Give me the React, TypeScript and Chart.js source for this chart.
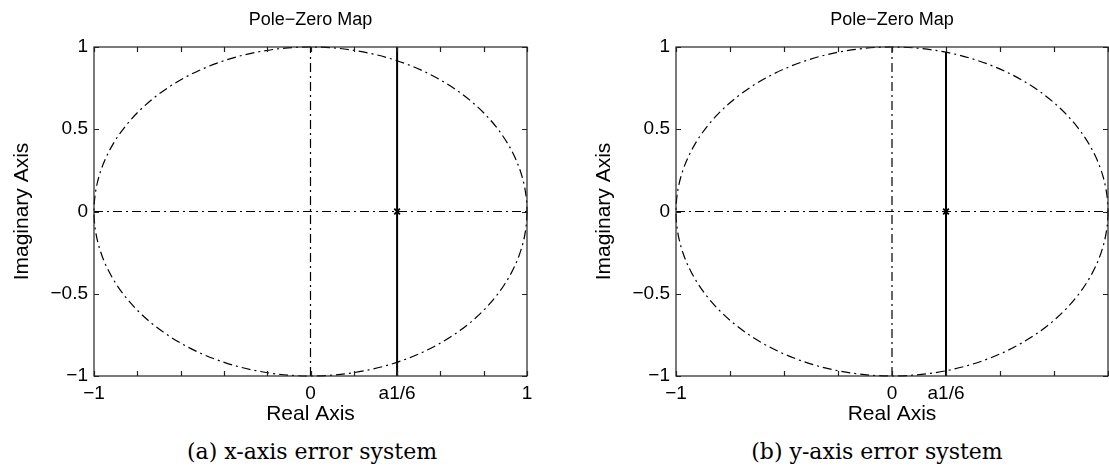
import React, { useEffect, useRef } from 'react';
import { Chart, registerables } from 'chart.js';

Chart.register(...registerables);

// ---------- data ----------
const panelTitle = 'Pole−Zero Map';
const xAxisTitle = 'Real Axis';
const yAxisTitle = 'Imaginary Axis';
const captions = ['(a) x-axis error system', '(b) y-axis error system'];

const yTickValues = [-1, -0.5, 0, 0.5, 1];
const yTickLabels = ['−1', '−0.5', '0', '0.5', '1'];

const xTickValuesA = [-1, -0.8, -0.6, -0.4, -0.2, 0, 0.2, 0.4, 0.6, 0.8, 1];
const xTickLabelsA = ['−1', '', '', '', '', '0', '', 'a1/6', '', '', '1'];
const xTickValuesB = [-1, -0.75, -0.5, -0.25, 0, 0.25, 0.5, 0.75, 1];
const xTickLabelsB = ['−1', '', '', '', '0', 'a1/6', '', '', ''];

const unitCircleRadius = 1;
const realAxisSpan = [-1, 1];
const imagAxisSpan = [-1, 1];
const poleA = 0.4;
const poleB = 0.25;
const locusSpanA = [-1, 1];
const locusSpanB = [-1, 0.97];

// ---------- style ----------
const SANS = '"Liberation Sans", Arial, Helvetica, sans-serif';
const SERIF = '"DejaVu Serif", "Liberation Serif", serif';
const INK = '#000';
const DASH_DOT = [9, 4, 2, 4];

const circlePlugin = {
  id: 'unitCircle',
  beforeDatasetsDraw(chart: any) {
    const { ctx, scales } = chart;
    const x = scales.x;
    const y = scales.y;
    const cx = x.getPixelForValue(0);
    const cy = y.getPixelForValue(0);
    const rx = x.getPixelForValue(unitCircleRadius) - cx;
    const ry = cy - y.getPixelForValue(unitCircleRadius);
    ctx.save();
    ctx.strokeStyle = INK;
    ctx.lineWidth = 1.2;
    ctx.setLineDash(DASH_DOT);
    ctx.beginPath();
    ctx.ellipse(cx, cy, rx, ry, 0, 0, Math.PI * 2);
    ctx.stroke();
    ctx.restore();
  },
};

const framePlugin = {
  id: 'frameTicks',
  afterDatasetsDraw(chart: any) {
    const { ctx, chartArea, scales } = chart;
    const { left, right, top, bottom } = chartArea;
    const L = 5;
    ctx.save();
    ctx.strokeStyle = '#222';
    ctx.lineWidth = 1.2;
    ctx.setLineDash([]);
    ctx.strokeRect(left, top, right - left, bottom - top);
    ctx.beginPath();
    scales.x.ticks.forEach((t: any) => {
      const px = Math.round(scales.x.getPixelForValue(t.value)) + 0.5;
      ctx.moveTo(px, bottom);
      ctx.lineTo(px, bottom - L);
      ctx.moveTo(px, top);
      ctx.lineTo(px, top + L);
    });
    scales.y.ticks.forEach((t: any) => {
      const py = Math.round(scales.y.getPixelForValue(t.value)) + 0.5;
      ctx.moveTo(left, py);
      ctx.lineTo(left + L, py);
      ctx.moveTo(right, py);
      ctx.lineTo(right - L, py);
    });
    ctx.stroke();
    ctx.restore();
  },
};

type PanelProps = {
  left: number;
  width: number;
  padRight: number;
  xTickValues: number[];
  xTickLabels: string[];
  pole: number;
  locusSpan: number[];
};

function Panel(props: PanelProps) {
  const ref = useRef<HTMLCanvasElement | null>(null);
  useEffect(() => {
    if (!ref.current) return;
    const { xTickValues, xTickLabels, pole, locusSpan, padRight } = props;
    const chart = new Chart(ref.current, {
      type: 'scatter',
      data: {
        datasets: [
          {
            data: [
              { x: realAxisSpan[0], y: 0 },
              { x: realAxisSpan[1], y: 0 },
            ],
            showLine: true,
            borderColor: INK,
            borderWidth: 1.2,
            borderDash: DASH_DOT,
            pointRadius: 0,
          },
          {
            data: [
              { x: 0, y: imagAxisSpan[0] },
              { x: 0, y: imagAxisSpan[1] },
            ],
            showLine: true,
            borderColor: INK,
            borderWidth: 1.2,
            borderDash: DASH_DOT,
            pointRadius: 0,
          },
          {
            data: [
              { x: pole, y: locusSpan[0] },
              { x: pole, y: locusSpan[1] },
            ],
            showLine: true,
            borderColor: INK,
            borderWidth: 2,
            pointRadius: 0,
          },
          {
            data: [{ x: pole, y: 0 }],
            showLine: false,
            pointStyle: 'crossRot',
            pointRadius: 4,
            borderColor: INK,
            borderWidth: 1.8,
          },
        ],
      },
      options: {
        responsive: false,
        animation: false,
        devicePixelRatio: 1,
        layout: { padding: { left: 0, right: padRight, top: 0, bottom: 0 } },
        plugins: {
          legend: { display: false },
          tooltip: { enabled: false },
          title: {
            display: true,
            fullSize: false,
            text: panelTitle,
            color: '#000',
            font: { family: SANS, size: 18, weight: 'normal' },
            padding: { top: 9, bottom: 16.4 },
          },
        },
        scales: {
          x: {
            type: 'linear',
            min: -1,
            max: 1,
            grid: { display: false, drawTicks: false },
            border: { display: false },
            afterBuildTicks: (s: any) => {
              s.ticks = xTickValues.map((v) => ({ value: v }));
            },
            afterFit: (s: any) => {
              s.height = 54;
            },
            ticks: {
              autoSkip: false,
              maxRotation: 0,
              minRotation: 0,
              padding: 6.6,
              color: '#000',
              font: { family: SANS, size: 19 },
              callback: (_v: any, i: number) => xTickLabels[i],
            },
            title: {
              display: true,
              text: xAxisTitle,
              color: '#000',
              font: { family: SANS, size: 21 },
              padding: { top: 0, bottom: 3.4 },
            },
          },
          y: {
            type: 'linear',
            min: -1,
            max: 1,
            grid: { display: false, drawTicks: false },
            border: { display: false },
            afterBuildTicks: (s: any) => {
              s.ticks = yTickValues.map((v) => ({ value: v }));
            },
            afterFit: (s: any) => {
              s.width = 94;
            },
            ticks: {
              autoSkip: false,
              padding: 6,
              color: '#000',
              font: { family: SANS, size: 19 },
              callback: (_v: any, i: number) => yTickLabels[i],
            },
            title: {
              display: true,
              text: yAxisTitle,
              color: '#000',
              font: { family: SANS, size: 21 },
              padding: { top: 9.4, bottom: 0 },
            },
          },
        },
      } as any,
      plugins: [circlePlugin, framePlugin],
    });
    return () => chart.destroy();
  }, []);
  return (
    <canvas
      ref={ref}
      width={props.width}
      height={430}
      style={{ position: 'absolute', left: props.left, top: 0, width: props.width, height: 430 }}
    />
  );
}

export default function App() {
  const captionStyle: React.CSSProperties = {
    position: 'absolute',
    top: 439,
    width: 420,
    textAlign: 'center',
    fontFamily: SERIF,
    fontSize: 22,
    lineHeight: '26px',
    color: '#000',
    whiteSpace: 'nowrap',
  };
  return (
    <div
      style={{
        position: 'fixed',
        left: 0,
        top: 0,
        width: 1109,
        height: 472,
        overflow: 'hidden',
        background: '#fff',
      }}
    >
      <Panel
        left={0}
        width={555}
        padRight={28}
        xTickValues={xTickValuesA}
        xTickLabels={xTickLabelsA}
        pole={poleA}
        locusSpan={locusSpanA}
      />
      <Panel
        left={582}
        width={555}
        padRight={29}
        xTickValues={xTickValuesB}
        xTickLabels={xTickLabelsB}
        pole={poleB}
        locusSpan={locusSpanB}
      />
      <div style={{ ...captionStyle, left: 312 - 210 }}>{captions[0]}</div>
      <div style={{ ...captionStyle, left: 877 - 210 }}>{captions[1]}</div>
    </div>
  );
}
